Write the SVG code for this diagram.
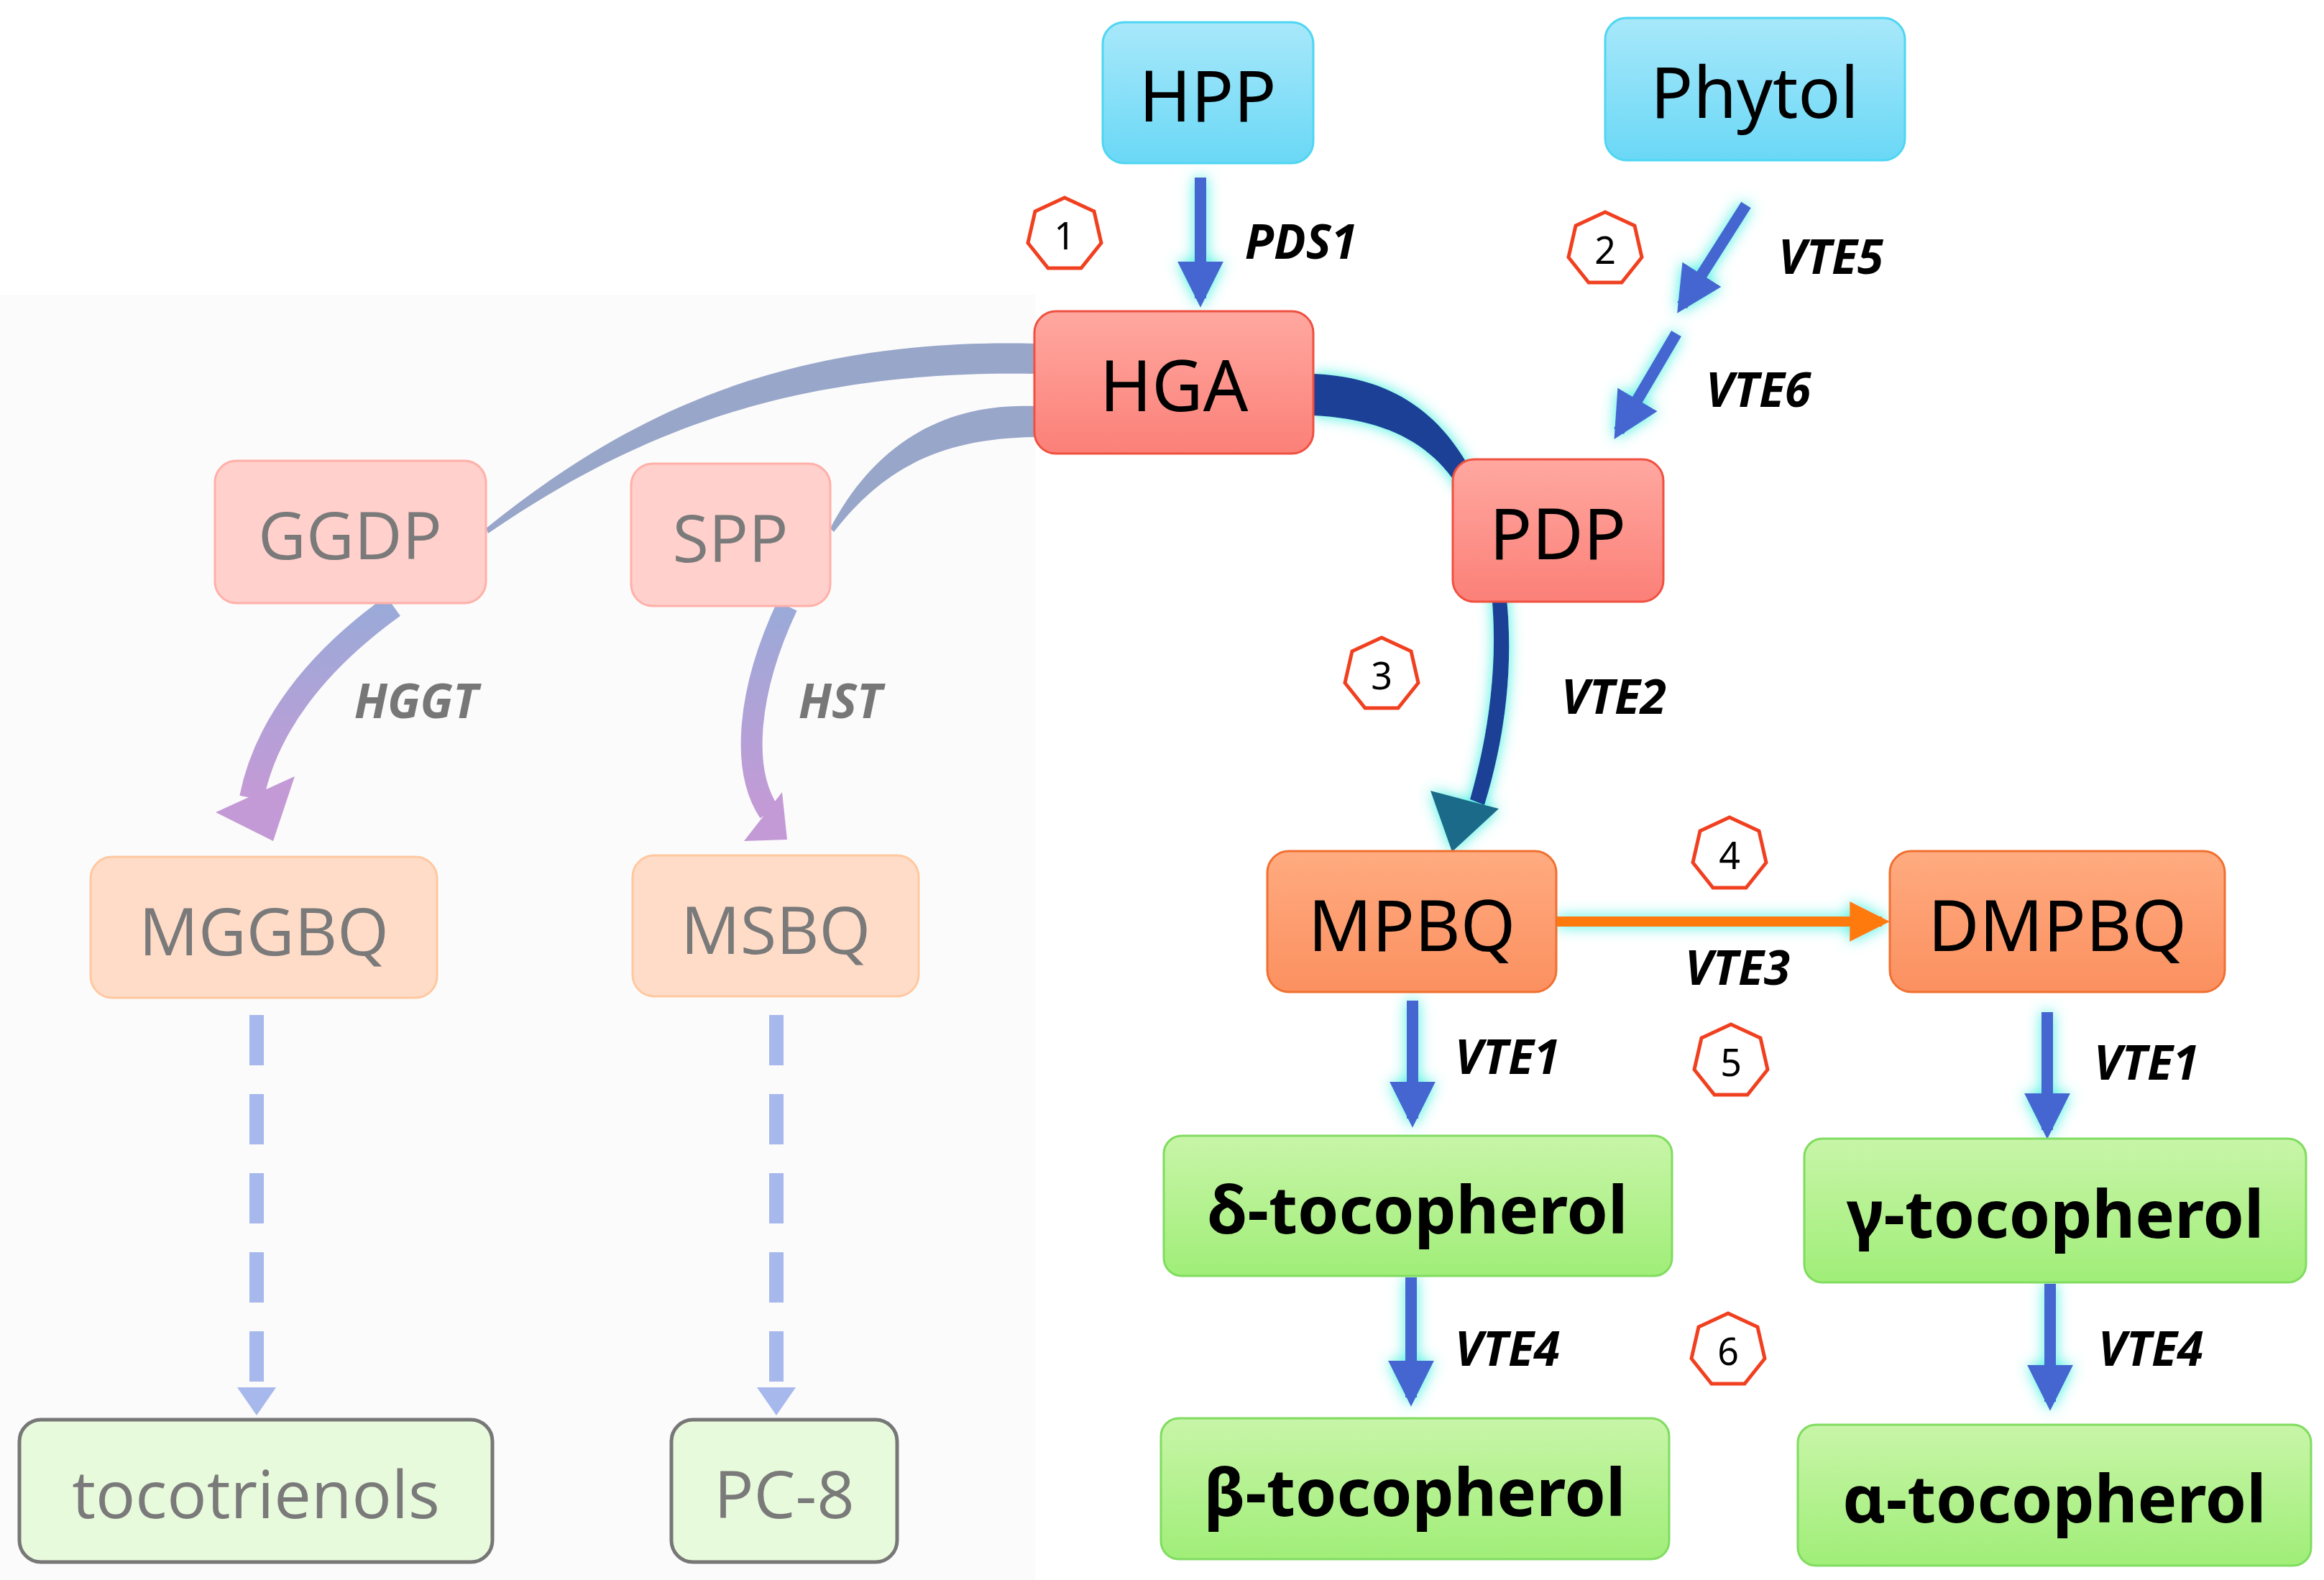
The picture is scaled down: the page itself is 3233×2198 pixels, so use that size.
<svg xmlns="http://www.w3.org/2000/svg" width="3233" height="2198" viewBox="0 0 3233 2198">
<style>
.t{font-family:"Noto Sans","Liberation Sans",sans-serif;text-anchor:middle;dominant-baseline:central}
.m{font-size:98px;fill:#000}
.b{font-size:92px;font-weight:bold;fill:#000}
.g{font-size:92px;fill:#7a7a7a;font-family:"Open Sans",sans-serif}
.lab{font-family:"Noto Sans","Liberation Sans",sans-serif;font-size:66px;font-weight:bold;font-style:italic;fill:#000;text-anchor:middle;dominant-baseline:central}
.lg{fill:#777}
.hex{fill:#fff;stroke:#f04020;stroke-width:5}
.num{font-family:"Noto Sans",sans-serif;font-size:52px;fill:#000;text-anchor:middle;dominant-baseline:central}
.ar{stroke:#4466d0;stroke-width:16;fill:none}
.glow{filter:url(#gl)}
</style>
<defs>
<linearGradient id="cy" x1="0" y1="0" x2="0" y2="1"><stop offset="0" stop-color="#a8e8fa"/><stop offset="1" stop-color="#6ad8f6"/></linearGradient>
<linearGradient id="rd" x1="0" y1="0" x2="0" y2="1"><stop offset="0" stop-color="#ffa8a0"/><stop offset="1" stop-color="#fb8078"/></linearGradient>
<linearGradient id="or" x1="0" y1="0" x2="0" y2="1"><stop offset="0" stop-color="#ffab80"/><stop offset="1" stop-color="#fb9060"/></linearGradient>
<linearGradient id="gr" x1="0" y1="0" x2="0" y2="1"><stop offset="0" stop-color="#c8f5a8"/><stop offset="1" stop-color="#a0ee78"/></linearGradient>
<linearGradient id="pu" x1="0" y1="0" x2="0" y2="1"><stop offset="0" stop-color="#9aaad8"/><stop offset="1" stop-color="#c49ad6"/></linearGradient>
<filter id="gl" x="-50%" y="-50%" width="200%" height="200%"><feGaussianBlur in="SourceAlpha" stdDeviation="12"/><feComponentTransfer><feFuncA type="linear" slope="1.6"/></feComponentTransfer><feFlood flood-color="#40f0e0"/><feComposite operator="in" in2="SourceAlpha"/><feGaussianBlur stdDeviation="10"/><feMerge><feMergeNode/><feMergeNode in="SourceGraphic"/></feMerge></filter>
<marker id="ah" viewBox="0 0 10 10" refX="8" refY="5" markerWidth="4" markerHeight="4" orient="auto" markerUnits="strokeWidth"><path d="M0,0L10,5L0,10z" fill="#4466d0"/></marker>
<marker id="ao" viewBox="0 0 10 10" refX="8" refY="5" markerWidth="4" markerHeight="4" orient="auto" markerUnits="strokeWidth"><path d="M0,0L10,5L0,10z" fill="#ff7a10"/></marker>
</defs>
<rect width="3233" height="2198" fill="#fff"/>
<rect x="0" y="410" width="1440" height="1788" fill="#fbfbfb"/>
<g id="connectors">
<path d="M1439,478 C1100,470 880,570 676,735 L679,742 C900,590 1120,515 1439,520 z" fill="#8d9cc4" opacity="0.9"/>
<path d="M1439,565 C1300,560 1210,630 1155,735 L1160,740 C1230,650 1310,610 1439,608 z" fill="#8d9cc4" opacity="0.9"/>
<path d="M547,843 C440,920 370,1010 350,1110" stroke="url(#pu)" stroke-width="34" fill="none"/>
<polygon points="300,1130 380,1170 410,1080" fill="#c49ad6"/>
<path d="M1095,843 C1040,960 1030,1070 1070,1130" stroke="url(#pu)" stroke-width="30" fill="none"/>
<polygon points="1035,1170 1095,1168 1088,1102" fill="#c49ad6"/>
<line x1="357" y1="1412" x2="357" y2="1930" stroke="#a7b8ec" stroke-width="20" stroke-dasharray="70,40"/>
<polygon points="330,1930 384,1930 357,1969" fill="#a7b8ec"/>
<line x1="1080" y1="1412" x2="1080" y2="1930" stroke="#a7b8ec" stroke-width="20" stroke-dasharray="70,40"/>
<polygon points="1053,1930 1107,1930 1080,1969" fill="#a7b8ec"/>
<g class="glow">
<path d="M1827,520 C1960,525 2040,600 2080,740 C2110,860 2105,990 2065,1120 L2045,1112 C2080,990 2088,870 2065,760 C2030,640 1960,585 1827,578 z" fill="#1f3f96"/>
<polygon points="1990,1100 2020,1185 2085,1125" fill="#1f6a8a"/>
<line class="ar" x1="1670" y1="247" x2="1670" y2="415" marker-end="url(#ah)"/>
<line class="ar" x1="2429" y1="285" x2="2340" y2="425" marker-end="url(#ah)"/>
<line class="ar" x1="2332" y1="464" x2="2252" y2="600" marker-end="url(#ah)"/>
<line x1="2165" y1="1282" x2="2618" y2="1282" stroke="#ff7a10" stroke-width="14" marker-end="url(#ao)"/>
<line class="ar" x1="1965" y1="1392" x2="1965" y2="1556" marker-end="url(#ah)"/>
<line class="ar" x1="2848" y1="1408" x2="2848" y2="1572" marker-end="url(#ah)"/>
<line class="ar" x1="1963" y1="1777" x2="1963" y2="1944" marker-end="url(#ah)"/>
<line class="ar" x1="2852" y1="1786" x2="2852" y2="1950" marker-end="url(#ah)"/>
</g>
</g>
<g id="HPP"><rect x="1534" y="31" width="293" height="196" rx="30" fill="url(#cy)" stroke="#4fd6f2" stroke-width="3"/><text class="t m" x="1680" y="131">HPP</text></g>
<g id="Phytol"><rect x="2233" y="25" width="417" height="198" rx="30" fill="url(#cy)" stroke="#4fd6f2" stroke-width="3"/><text class="t m" x="2441" y="126">Phytol</text></g>
<g id="HGA"><rect x="1439" y="433" width="388" height="198" rx="30" fill="url(#rd)" stroke="#f05040" stroke-width="3"/><text class="t m" x="1633" y="534">HGA</text></g>
<g id="PDP"><rect x="2021" y="639" width="293" height="198" rx="30" fill="url(#rd)" stroke="#f05040" stroke-width="3"/><text class="t m" x="2167" y="740">PDP</text></g>
<g id="GGDP"><rect x="299" y="641" width="377" height="198" rx="30" fill="#ffd0cc" stroke="#ffb0a8" stroke-width="3"/><text class="t g" x="487" y="742">GGDP</text></g>
<g id="SPP"><rect x="878" y="645" width="277" height="198" rx="30" fill="#ffd0cc" stroke="#ffb0a8" stroke-width="3"/><text class="t g" x="1016" y="746">SPP</text></g>
<g id="MGGBQ"><rect x="126" y="1192" width="482" height="196" rx="30" fill="#ffdcc8" stroke="#ffc8a0" stroke-width="3"/><text class="t g" x="367" y="1293">MGGBQ</text></g>
<g id="MSBQ"><rect x="880" y="1190" width="398" height="196" rx="30" fill="#ffdcc8" stroke="#ffc8a0" stroke-width="3"/><text class="t g" x="1079" y="1291">MSBQ</text></g>
<g id="MPBQ"><rect x="1763" y="1184" width="402" height="196" rx="30" fill="url(#or)" stroke="#f07030" stroke-width="3"/><text class="t m" x="1964" y="1285">MPBQ</text></g>
<g id="DMPBQ"><rect x="2629" y="1184" width="466" height="196" rx="30" fill="url(#or)" stroke="#f07030" stroke-width="3"/><text class="t m" x="2862" y="1285">DMPBQ</text></g>
<g id="delta"><rect x="1619" y="1580" width="707" height="195" rx="25" fill="url(#gr)" stroke="#80dc60" stroke-width="3"/><text class="t b" x="1972" y="1680">δ-tocopherol</text></g>
<g id="gamma"><rect x="2510" y="1584" width="698" height="200" rx="25" fill="url(#gr)" stroke="#80dc60" stroke-width="3"/><text class="t b" x="2859" y="1686">γ-tocopherol</text></g>
<g id="beta"><rect x="1615" y="1973" width="707" height="196" rx="25" fill="url(#gr)" stroke="#80dc60" stroke-width="3"/><text class="t b" x="1968" y="2073">β-tocopherol</text></g>
<g id="alpha"><rect x="2501" y="1982" width="714" height="196" rx="25" fill="url(#gr)" stroke="#80dc60" stroke-width="3"/><text class="t b" x="2858" y="2082">α-tocopherol</text></g>
<g id="tocotrienols"><rect x="27" y="1975" width="658" height="198" rx="30" fill="#e8fadc" stroke="#777" stroke-width="5"/><text class="t g" x="356" y="2076">tocotrienols</text></g>
<g id="PC8"><rect x="934" y="1975" width="314" height="198" rx="30" fill="#e8fadc" stroke="#777" stroke-width="5"/><text class="t g" x="1091" y="2076">PC-8</text></g>
<g id="labels">
<text class="lab" x="1810" y="334">PDS1</text>
<text class="lab" x="2547" y="355">VTE5</text>
<text class="lab" x="2446" y="540">VTE6</text>
<text class="lab" x="2245" y="967">VTE2</text>
<text class="lab" x="2417" y="1344">VTE3</text>
<text class="lab" x="2097" y="1468">VTE1</text>
<text class="lab" x="2986" y="1476">VTE1</text>
<text class="lab" x="2097" y="1874">VTE4</text>
<text class="lab" x="2992" y="1874">VTE4</text>
<text class="lab lg" x="579" y="973">HGGT</text>
<text class="lab lg" x="1169" y="973">HST</text>
</g>
<g id="steps">
<polygon class="hex" points="1481,275 1522,294 1532,338 1504,373 1458,373 1430,338 1440,294"/><text class="num" x="1481" y="326">1</text>
<polygon class="hex" points="2233,295 2274,314 2284,358 2256,393 2210,393 2182,358 2192,314"/><text class="num" x="2233" y="346">2</text>
<polygon class="hex" points="1922,887 1963,906 1973,950 1945,985 1899,985 1871,950 1881,906"/><text class="num" x="1922" y="938">3</text>
<polygon class="hex" points="2406,1137 2447,1156 2457,1200 2429,1235 2383,1235 2355,1200 2365,1156"/><text class="num" x="2406" y="1188">4</text>
<polygon class="hex" points="2408,1425 2449,1444 2459,1488 2431,1523 2385,1523 2357,1488 2367,1444"/><text class="num" x="2408" y="1476">5</text>
<polygon class="hex" points="2404,1827 2445,1846 2455,1890 2427,1925 2381,1925 2353,1890 2363,1846"/><text class="num" x="2404" y="1878">6</text>
</g>
</svg>
